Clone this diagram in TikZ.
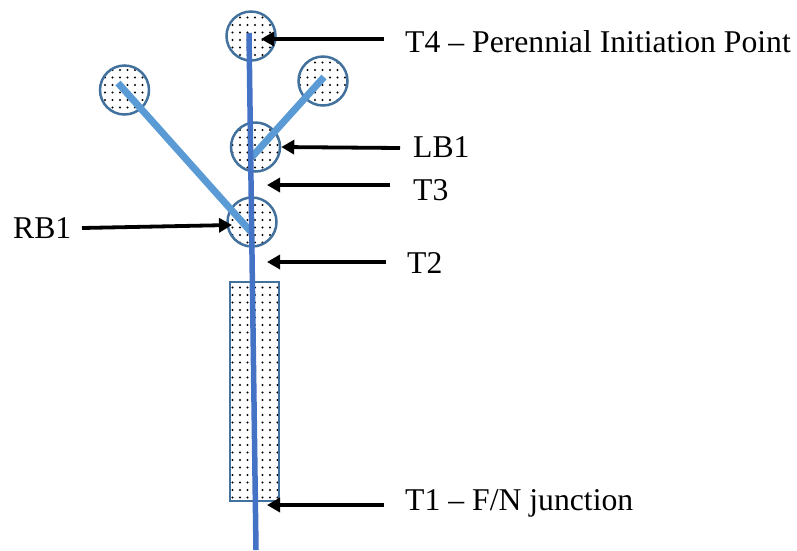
\documentclass[tikz,border=0pt]{standalone}
\usepackage{fontspec}
\setmainfont{Liberation Serif}
\usepackage{tikz}
\usetikzlibrary{arrows.meta, patterns.meta}

\definecolor{stemblue}{HTML}{4472C4}
\definecolor{branchblue}{HTML}{5B9BD5}
\definecolor{rimblue}{HTML}{41719C}

\tikzset{
  bud/.style={circle, draw=rimblue, line width=2.5pt, minimum size=49pt, inner sep=0pt,
    pattern={Dots[distance=7.5pt, radius=1.2pt]}, pattern color=black},
  zone/.style={rectangle, draw=rimblue, line width=2.5pt, inner sep=0pt,
    pattern={Dots[distance=7.5pt, radius=1.2pt]}, pattern color=black},
  tag/.style={anchor=base west, inner sep=0pt, font=\fontsize{31.7}{36}\selectfont},
  pointer/.style={draw=black, line width=3.8pt, -{Triangle[length=13pt,width=14pt]}}
}

\begin{document}
\begin{tikzpicture}[x=1pt, y=-1pt]
    \useasboundingbox (0,0) rectangle (797,550);

    % dotted zones
    \node(fnzone)[zone, minimum width=49pt, minimum height=219pt] at (254.5,391.5){};
    \node(t4bud)[bud] at (251,36){};
    \node(rightbud)[bud] at (323,81){};
    \node(leftbud)[bud] at (124.5,90){};
    \node(lb1bud)[bud] at (255.5,147){};
    \node(rb1bud)[bud] at (252,222){};

    % stem and branches
    \coordinate(stemtop) at (249,33);
    \coordinate(stembot) at (256,550);
    \coordinate(lbfork) at (251,158);
    \coordinate(rbfork) at (252,233);
    \coordinate(lbend) at (324,77);
    \coordinate(rbend) at (118,83);

    \draw[branchblue, line width=7pt] (rbfork) -- (rbend);
    \draw[branchblue, line width=7pt] (lbfork) -- (lbend);
    \draw[stemblue, line width=5.5pt] (stemtop) -- (stembot);

    % labels
    \node(t4label)[tag] at (405,52){T4 -- Perennial Initiation Point};
    \node(lb1label)[tag] at (413,157){LB1};
    \node(t3label)[tag] at (413,200){T3};
    \node(t2label)[tag] at (407,273){T2};
    \node(t1label)[tag] at (405,510){T1 -- F/N junction};
    \node(rb1label)[tag] at (13,238){RB1};

    \coordinate(t4tail) at (384,39);
    \coordinate(t4tip) at (261,39);
    \coordinate(lb1tail) at (400,148);
    \coordinate(t3tail) at (390,185);
    \coordinate(t3tip) at (267,185);
    \coordinate(t2tail) at (386,262);
    \coordinate(t2tip) at (267,262);
    \coordinate(t1tail) at (384,505);
    \coordinate(t1tip) at (267,505);
    \coordinate(rb1tail) at (82,228);
    \coordinate(rb1tip) at (232,225);

    \path[every edge/.append style=pointer]

    (t4tail) edge (t4tip)
    (lb1tail) edge (lb1bud.east)
    (t3tail) edge (t3tip)
    (t2tail) edge (t2tip)
    (t1tail) edge (t1tip)
    (rb1tail) edge (rb1tip)

    ;
\end{tikzpicture}
\end{document}
